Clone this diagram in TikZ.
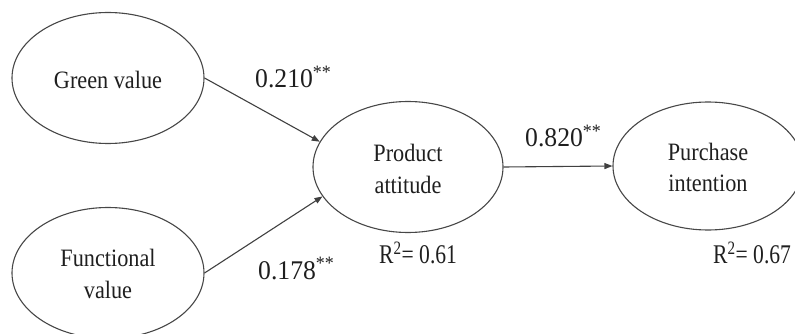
\documentclass[tikz,border=0pt]{standalone}
\usepackage{fontspec}
\setmainfont{Liberation Serif}
\newfontfamily\nodefont{Liberation Serif}[FakeStretch=0.89]
\newfontfamily\coeffont{Liberation Serif}[FakeStretch=0.95]
\newfontfamily\rsqfont{Liberation Serif}[FakeStretch=0.80]
\usetikzlibrary{shapes.geometric,arrows.meta}
\begin{document}
\begin{tikzpicture}[x=1pt,y=-1pt,
  construct/.style={ellipse,draw=black!72,line width=1.1pt,inner sep=0pt,
    minimum width=192pt,minimum height=131pt,align=center,text=black!88,
    font=\nodefont\fontsize{25}{31.5}\selectfont},
  path/.style={draw=black!75,line width=1.1pt,-{Triangle[length=8pt,width=6pt]}},
  coef/.style={anchor=base west,inner sep=0pt,text=black!88,font=\coeffont\fontsize{27}{30}\selectfont},
  rsq/.style={anchor=base west,inner sep=0pt,text=black!88,font=\rsqfont\fontsize{27}{30}\selectfont}]
\useasboundingbox (0,0) rectangle (795,334);
\node[construct,text height=20.6pt,text depth=0pt] (g) at (108,78) {Green value};
\node[construct,text height=50.6pt,text depth=0pt] (f) at (108,273) {Functional\\value};
\node[construct,minimum width=190pt,text height=52.6pt,text depth=0pt] (p) at (408,167) {Product\\attitude};
\node[construct,minimum width=190pt,minimum height=128pt,text height=51.4pt,text depth=0pt] (q) at (708,166) {Purchase\\intention};
\draw[path] (g.east) -- (p.164);
\draw[path] (f.east) -- (p.199);
\draw[path] (p.east) -- (q.west);
\node[coef] (l1) at (255,87.3) {0.210\textsuperscript{**}};
\node[coef] (l2) at (258,279) {0.178\textsuperscript{**}};
\node[coef] (l3) at (525,146.7) {0.820\textsuperscript{**}};
\node[rsq] (r1) at (379,263.3) {R\textsuperscript{2}= 0.61};
\node[rsq] (r2) at (713,263.3) {R\textsuperscript{2}= 0.67};
\end{tikzpicture}
\end{document}
